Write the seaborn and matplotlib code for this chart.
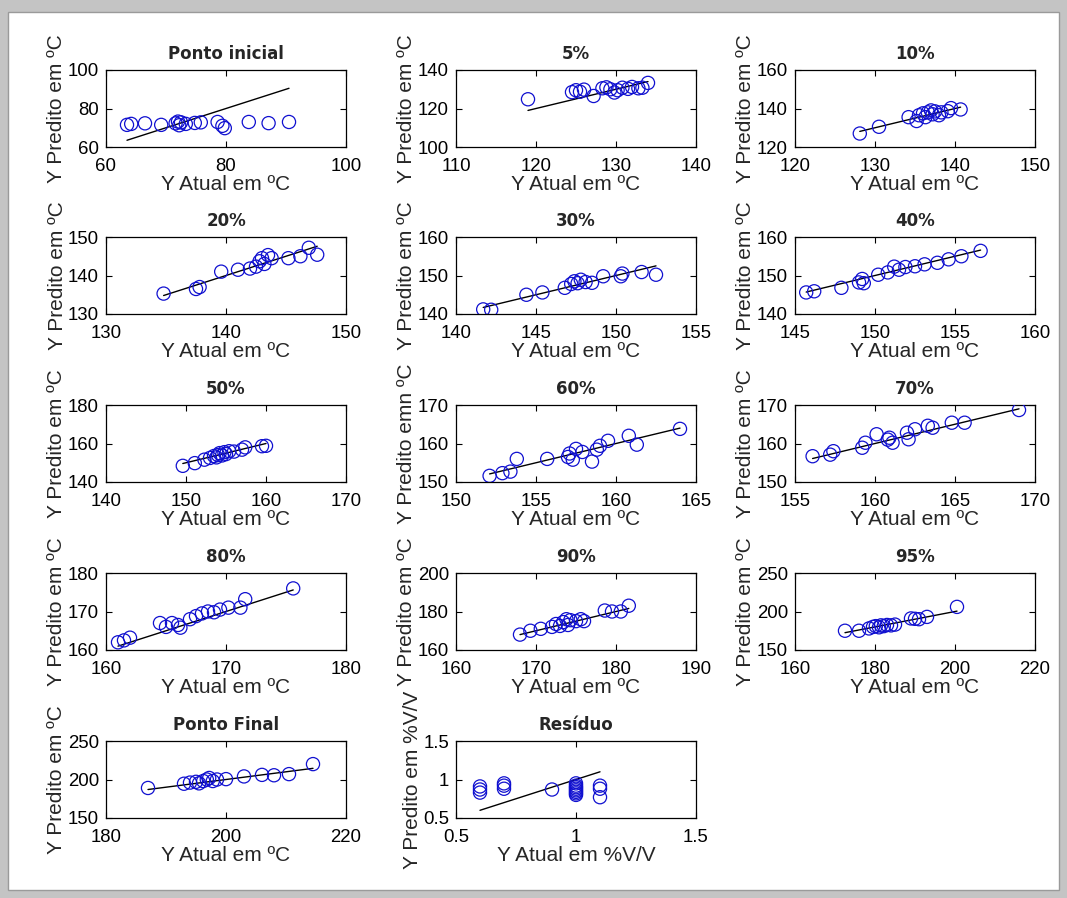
import matplotlib
matplotlib.use("Agg")
import matplotlib.pyplot as plt
import seaborn as sns
import pandas as pd
from matplotlib.patches import Rectangle

sns.set_style("ticks")
plt.rcParams['font.family'] = ['Liberation Sans', 'DejaVu Sans']

# ---- data ----
titles = ["Ponto inicial", "5%", "10%", "20%", "30%", "40%", "50%", "60%",
          "70%", "80%", "90%", "95%", "Ponto Final", "Resíduo"]

x_ini = [63.5, 64.2, 66.5, 69.2, 71.6, 72.0, 72.2, 72.5, 73.3, 74.8, 75.8, 78.6, 79.4, 79.8, 83.8, 87.1, 90.5]
y_ini = [71.5, 72.0, 72.3, 71.5, 72.3, 73.2, 71.3, 72.8, 72.0, 72.5, 72.8, 73.0, 71.0, 69.8, 73.0, 72.4, 73.0]

x_05 = [119.0, 124.5, 125.0, 125.5, 126.0, 127.2, 128.3, 128.8, 129.3, 129.8, 130.2, 130.8, 131.5, 132.0, 132.8, 133.3, 134.0]
y_05 = [124.8, 128.5, 129.5, 128.7, 129.8, 126.5, 130.5, 131.0, 130.0, 128.3, 129.5, 130.8, 130.2, 131.2, 130.5, 130.8, 133.3]

x_10 = [128.1, 130.5, 134.2, 135.2, 135.5, 136.0, 136.3, 136.6, 137.0, 137.2, 137.5, 138.0, 138.3, 139.1, 139.5, 140.7]
y_10 = [127.0, 130.5, 135.5, 133.5, 136.5, 137.5, 135.5, 138.0, 139.0, 137.0, 138.5, 136.5, 138.0, 138.6, 140.2, 139.5]

x_20 = [134.8, 137.5, 137.8, 139.6, 141.0, 142.0, 142.5, 142.8, 143.0, 143.2, 143.5, 143.8, 145.2, 146.2, 146.9, 147.6]
y_20 = [135.3, 136.5, 137.0, 141.0, 141.5, 141.8, 142.3, 143.7, 144.5, 143.0, 145.3, 144.5, 144.5, 145.0, 147.2, 145.4]

x_30 = [141.7, 142.2, 144.4, 145.4, 146.8, 147.2, 147.4, 147.6, 147.8, 148.1, 148.5, 149.2, 150.3, 150.4, 151.6, 152.5]
y_30 = [141.2, 141.1, 145.0, 145.6, 146.8, 147.8, 148.5, 148.0, 148.9, 148.3, 148.1, 149.8, 149.8, 150.5, 150.9, 150.2]

x_40 = [145.7, 146.2, 147.9, 149.0, 149.2, 149.3, 150.2, 150.8, 151.2, 151.5, 151.9, 152.5, 153.1, 153.9, 154.6, 155.4, 156.6]
y_40 = [145.6, 145.9, 146.8, 148.2, 149.1, 148.0, 150.2, 150.8, 152.3, 151.5, 152.2, 152.4, 152.9, 153.3, 154.2, 155.0, 156.4]

x_50 = [149.6, 151.1, 152.3, 153.0, 153.5, 153.8, 154.0, 154.2, 154.5, 154.8, 155.0, 155.4, 156.0, 157.0, 157.4, 159.5, 160.0]
y_50 = [148.4, 149.8, 151.6, 152.5, 153.5, 152.8, 154.0, 155.0, 153.8, 155.5, 154.5, 156.0, 155.8, 156.8, 158.0, 158.6, 158.8]

x_60 = [152.1, 152.9, 153.4, 153.8, 155.7, 157.0, 157.1, 157.3, 157.5, 157.9, 158.5, 158.8, 159.0, 159.5, 160.8, 161.3, 164.0]
y_60 = [151.6, 152.3, 152.7, 156.0, 156.0, 156.5, 157.4, 155.8, 158.6, 157.8, 155.3, 158.4, 159.4, 160.7, 162.0, 159.7, 163.8]

x_70 = [156.1, 157.2, 157.4, 159.2, 159.4, 160.1, 160.8, 160.9, 161.1, 162.0, 162.1, 162.5, 163.3, 163.6, 164.8, 165.6, 169.0]
y_70 = [156.7, 157.1, 158.0, 158.9, 160.2, 162.4, 161.0, 161.5, 160.2, 162.8, 161.1, 163.7, 164.6, 164.1, 165.4, 165.4, 168.7]

x_80 = [161.0, 161.5, 162.0, 164.5, 165.0, 165.5, 166.0, 166.2, 167.0, 167.5, 168.0, 168.5, 169.0, 169.5, 170.2, 171.2, 171.6, 175.6]
y_80 = [162.0, 162.5, 163.2, 167.0, 166.0, 167.0, 166.5, 165.8, 168.0, 168.8, 169.5, 170.0, 169.8, 170.5, 171.0, 171.0, 173.2, 176.0]

x_90 = [168.0, 169.3, 170.6, 172.0, 172.5, 173.0, 173.4, 173.8, 174.0, 174.3, 175.0, 175.6, 176.0, 178.6, 179.5, 180.6, 181.6]
y_90 = [168.0, 170.0, 171.0, 172.0, 173.5, 172.5, 174.5, 176.0, 173.0, 175.5, 175.0, 176.0, 175.0, 180.5, 180.0, 180.0, 183.0]

x_95 = [172.5, 176.0, 178.5, 179.5, 180.2, 181.0, 181.5, 182.2, 183.0, 184.0, 185.0, 189.0, 190.0, 191.0, 193.0, 200.5]
y_95 = [175.0, 175.0, 178.0, 180.0, 181.0, 179.5, 182.0, 181.0, 182.5, 182.0, 183.0, 191.0, 190.5, 190.0, 193.0, 206.0]

x_fin = [187.0, 193.0, 194.0, 195.0, 195.5, 196.2, 196.8, 197.2, 197.8, 198.5, 200.0, 203.0, 206.0, 208.0, 210.5, 214.5]
y_fin = [189.0, 194.5, 196.0, 197.0, 195.0, 198.0, 200.0, 202.0, 198.0, 200.0, 200.5, 204.0, 206.0, 205.5, 207.0, 220.0]

x_res = [0.6, 0.6, 0.6, 0.7, 0.7, 0.7, 0.9, 1.0, 1.0, 1.0, 1.0, 1.0, 1.0, 1.0, 1.0, 1.1, 1.1, 1.1]
y_res = [0.83, 0.87, 0.91, 0.88, 0.92, 0.95, 0.87, 0.80, 0.82, 0.84, 0.86, 0.88, 0.90, 0.92, 0.95, 0.77, 0.88, 0.92]

xticks_list = [[60, 80, 100], [110, 120, 130, 140], [120, 130, 140, 150], [130, 140, 150],
               [140, 145, 150, 155], [145, 150, 155, 160], [140, 150, 160, 170], [150, 155, 160, 165],
               [155, 160, 165, 170], [160, 170, 180], [160, 170, 180, 190], [160, 180, 200, 220],
               [180, 200, 220], [0.5, 1, 1.5]]
yticks_list = [[60, 80, 100], [100, 120, 140], [120, 140, 160], [130, 140, 150],
               [140, 150, 160], [140, 150, 160], [140, 160, 180], [150, 160, 170],
               [150, 160, 170], [160, 170, 180], [160, 180, 200], [150, 200, 250],
               [150, 200, 250], [0.5, 1, 1.5]]
xlabels = ["Y Atual em ºC"] * 13 + ["Y Atual em %V/V"]
ylabels = ["Y Predito em ºC"] * 7 + ["Y Predito emn ºC"] + ["Y Predito em ºC"] * 5 + ["Y Predito em %V/V"]

xs = [x_ini, x_05, x_10, x_20, x_30, x_40, x_50, x_60, x_70, x_80, x_90, x_95, x_fin, x_res]
ys = [y_ini, y_05, y_10, y_20, y_30, y_40, y_50, y_60, y_70, y_80, y_90, y_95, y_fin, y_res]

# ---- figure ----
W, H = 1067, 898
fig = plt.figure(figsize=(W / 100, H / 100), dpi=100)
fig.patch.set_facecolor('#c4c4c4')
fig.add_artist(Rectangle((8 / W, 8 / H), (W - 16) / W, (H - 20) / H,
                         transform=fig.transFigure, facecolor='white', edgecolor='#9a9a9a',
                         lw=1, zorder=0))

col_left = [106, 456, 795]
row_bottom = [147, 314, 482, 650, 818]
aw, ah = 240, 77

def fmt(v):
    return ("%g" % v)

for i in range(14):
    r, c = divmod(i, 3)
    ax = fig.add_axes([col_left[c] / W, 1 - row_bottom[r] / H, aw / W, ah / H])
    ax.set_facecolor('white')
    df = pd.DataFrame({"x": xs[i], "y": ys[i]})
    lo, hi = min(xs[i]), max(xs[i])
    ref = pd.DataFrame({"x": [lo, hi], "y": [lo, hi]})
    sns.lineplot(data=ref, x="x", y="y", ax=ax, color='black', lw=1.0, zorder=2)
    sns.scatterplot(data=df, x="x", y="y", ax=ax, marker='o', s=90,
                    facecolors='none', edgecolor='#1010d0', linewidth=0.9, zorder=3)
    xt, yt = xticks_list[i], yticks_list[i]
    ax.set_xlim(xt[0], xt[-1])
    ax.set_ylim(yt[0], yt[-1])
    ax.set_xticks(xt)
    ax.set_yticks(yt)
    ax.set_xticklabels([fmt(v) for v in xt])
    ax.set_yticklabels([fmt(v) for v in yt])
    ax.tick_params(direction='in', length=4, width=0.8, top=True, right=True,
                   labelsize=13.4, colors='black')
    ax.tick_params(axis='x', pad=8)
    ax.tick_params(axis='y', pad=5)
    for s in ax.spines.values():
        s.set_visible(True)
        s.set_color('black')
        s.set_linewidth(0.9)
    ax.set_xlabel(xlabels[i], fontsize=15, labelpad=0)
    ax.set_ylabel(ylabels[i], fontsize=15, labelpad=1)
    ax.set_title(titles[i], fontsize=12, fontweight='bold', pad=8,
                 family=['DejaVu Sans'])

fig.savefig("out.png", dpi=100, facecolor=fig.get_facecolor())
